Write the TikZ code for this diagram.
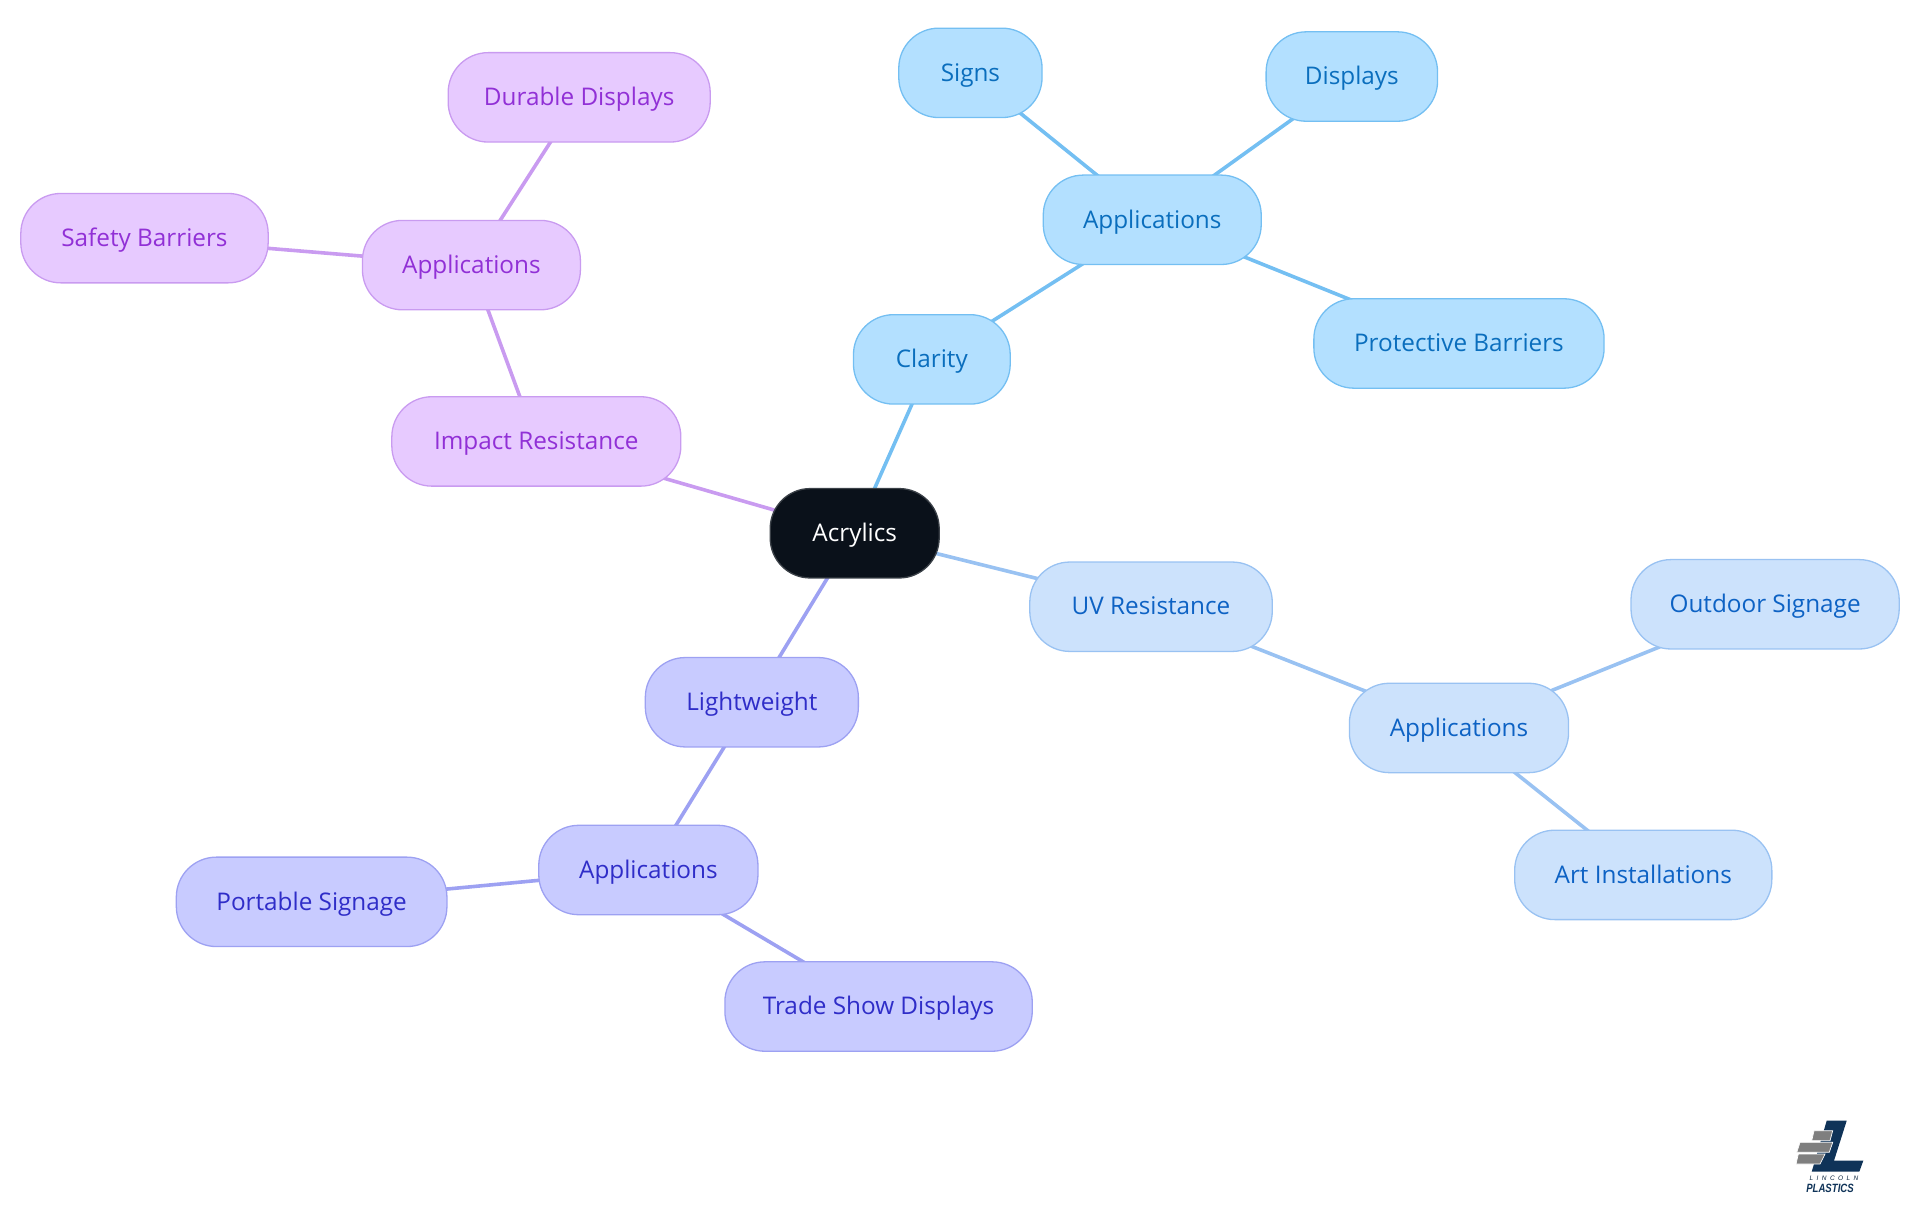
\documentclass[tikz,border=0pt]{standalone}
\usepackage{fontspec}
\usepackage{graphicx}
\setmainfont{Open Sans}
\newfontfamily\logofont{Liberation Sans}
\usetikzlibrary{backgrounds}
\definecolor{rootfill}{HTML}{0A111A}
\definecolor{bluefill}{HTML}{B3E0FF}
\definecolor{blueline}{HTML}{74BFF2}
\definecolor{bluetext}{HTML}{0A6EBD}
\definecolor{skyfill}{HTML}{CCE2FC}
\definecolor{skyline}{HTML}{99C2F2}
\definecolor{skytext}{HTML}{0D62C4}
\definecolor{indfill}{HTML}{C8CBFF}
\definecolor{indline}{HTML}{9DA1F2}
\definecolor{indtext}{HTML}{2F2DC8}
\definecolor{purfill}{HTML}{E7CAFF}
\definecolor{purline}{HTML}{C99BF0}
\definecolor{purtext}{HTML}{9130D6}
\definecolor{logonavy}{HTML}{0F3358}
\definecolor{logogrey}{HTML}{7F7F7F}
\tikzset{
  mapnode/.style={rounded corners=40pt,minimum height=89.4pt,inner sep=0pt,line width=1.3pt,
    text height=19.5pt,text depth=3pt,font=\fontsize{24.3}{29}\selectfont},
  rootnode/.style={mapnode,fill=rootfill,draw=rootfill!80!white,text=white},
  bluenode/.style={mapnode,fill=bluefill,draw=blueline,text=bluetext},
  skynode/.style={mapnode,fill=skyfill,draw=skyline,text=skytext},
  indnode/.style={mapnode,fill=indfill,draw=indline,text=indtext},
  purnode/.style={mapnode,fill=purfill,draw=purline,text=purtext},
  bluelink/.style={draw=blueline,line width=3.6pt},
  skylink/.style={draw=skyline,line width=3.6pt},
  indlink/.style={draw=indline,line width=3.6pt},
  purlink/.style={draw=purline,line width=3.6pt},
  logobrick/.style={fill=logogrey,draw=white,line width=0.7pt},
}
\newcommand\mapbox[6]{%
  \pgfmathsetmacro\mapcx{(#2+#3)/2*1.22449}%
  \pgfmathsetmacro\mapcy{-#4*1.22449}%
  \pgfmathsetmacro\mapw{(#3-#2)*1.22449}%
  \node[#5,minimum width=\mapw pt] (#1) at (\mapcx pt,\mapcy pt) {#6};}
\begin{document}
\begin{tikzpicture}[x=1pt,y=-1pt]
\useasboundingbox (0,0) rectangle (1920,1215);
\mapbox{root}{629}{767}{435.5}{rootnode}{Acrylics}
\mapbox{clarity}{697}{825}{293.5}{bluenode}{Clarity}
\mapbox{bapps}{852}{1030}{179.5}{bluenode}{Applications}
\mapbox{signs}{734}{851}{59.5}{bluenode}{Signs}
\mapbox{displays}{1034}{1174}{62.5}{bluenode}{Displays}
\mapbox{barriers}{1073}{1310}{280.5}{bluenode}{Protective Barriers}
\mapbox{impact}{320}{556}{360.5}{purnode}{Impact Resistance}
\mapbox{papps}{296}{474}{216.5}{purnode}{Applications}
\mapbox{durable}{366}{580}{79.5}{purnode}{Durable Displays}
\mapbox{safety}{17}{219}{194.5}{purnode}{Safety Barriers}
\mapbox{uv}{841}{1039}{495.5}{skynode}{UV Resistance}
\mapbox{sapps}{1102}{1281}{594.5}{skynode}{Applications}
\mapbox{outdoor}{1332}{1551}{493.5}{skynode}{Outdoor Signage}
\mapbox{art}{1237}{1447}{714.5}{skynode}{Art Installations}
\mapbox{light}{527}{701}{573.5}{indnode}{Lightweight}
\mapbox{iapps}{440}{619}{710.5}{indnode}{Applications}
\mapbox{portable}{144}{365}{736.5}{indnode}{Portable Signage}
\mapbox{trade}{592}{843}{822}{indnode}{Trade Show Displays}
\begin{pgfonlayer}{background}
\draw[bluelink] (root.center) -- (clarity.center);
\draw[bluelink] (clarity.center) -- (bapps.center);
\draw[bluelink] (bapps.center) -- (signs.center);
\draw[bluelink] (bapps.center) -- (displays.center);
\draw[bluelink] (bapps.center) -- (barriers.center);
\draw[purlink] (root.center) -- (impact.center);
\draw[purlink] (impact.center) -- (papps.center);
\draw[purlink] (papps.center) -- (durable.center);
\draw[purlink] (papps.center) -- (safety.center);
\draw[skylink] (root.center) -- (uv.center);
\draw[skylink] (uv.center) -- (sapps.center);
\draw[skylink] (sapps.center) -- (outdoor.center);
\draw[skylink] (sapps.center) -- (art.center);
\draw[indlink] (root.center) -- (light.center);
\draw[indlink] (light.center) -- (iapps.center);
\draw[indlink] (iapps.center) -- (portable.center);
\draw[indlink] (iapps.center) -- (trade.center);
\end{pgfonlayer}
% logo
\fill[logonavy] (1826.7,1120.7) -- (1846.7,1120.7) -- (1834,1160.7) -- (1863.3,1160.7) -- (1859.3,1171.7) -- (1811.7,1171.7) -- cycle;
\draw[logobrick] (1814,1130.7) -- (1832.7,1130.7) -- (1830,1140.7) -- (1811.7,1140.7) -- cycle;
\draw[logobrick] (1800,1142.3) -- (1832.7,1142.3) -- (1829.3,1152.3) -- (1796.7,1152.3) -- cycle;
\draw[logobrick] (1798.3,1154) -- (1825,1154) -- (1820,1164) -- (1796,1164) -- cycle;
\node[inner sep=0pt,text=logonavy!70!black,font=\logofont\itshape\fontsize{6.5}{7}\selectfont] (lincoln) at (1834,1178.5) {L\hspace{3.4pt}I\hspace{3.4pt}N\hspace{3.4pt}C\hspace{3.4pt}O\hspace{3.4pt}L\hspace{3.4pt}N};
\node[inner sep=0pt,text=logonavy,font=\logofont\bfseries\itshape\fontsize{12}{13}\selectfont] (plastics) at (1830,1188.5) {\scalebox{0.8}[1]{PLASTICS}};
\end{tikzpicture}
\end{document}
